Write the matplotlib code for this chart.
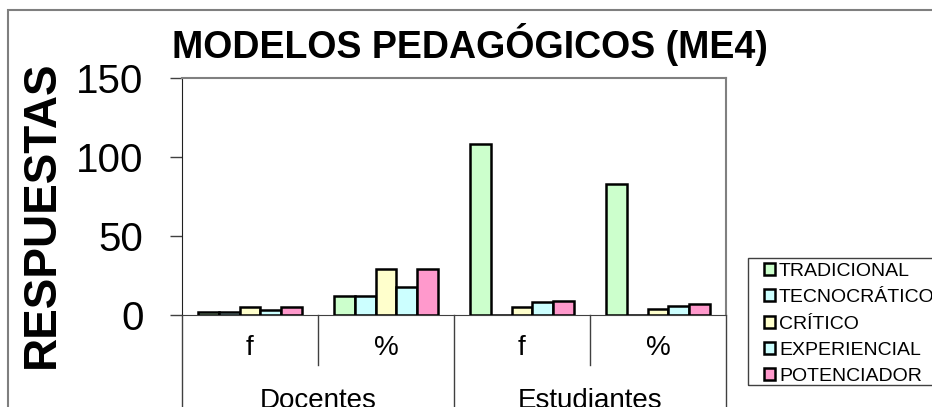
import matplotlib
matplotlib.use("Agg")
import matplotlib.pyplot as plt
from matplotlib.patches import Rectangle
import numpy as np

plt.rcParams['font.family'] = ['Liberation Sans', 'DejaVu Sans']

categories = ['f', '%', 'f', '%']
groups = ['Docentes', 'Estudiantes']
series = ['TRADICIONAL', 'TECNOCRÁTICO', 'CRÍTICO', 'EXPERIENCIAL', 'POTENCIADOR']
values = {
    'TRADICIONAL':  [2, 12, 108, 83],
    'TECNOCRÁTICO': [2, 12, 0, 0],
    'CRÍTICO':      [5, 29, 5, 4],
    'EXPERIENCIAL': [3, 18, 8, 6],
    'POTENCIADOR':  [5, 29, 9, 7],
}
colors = ['#CCFFCC', '#CCFFFF', '#FFFFCC', '#CCFFFF', '#FF99CC']
yticks = [0, 50, 100, 150]

W, H = 932, 407
fig = plt.figure(figsize=(W / 100, H / 100), dpi=100)

# outer chart border
fig.patches.append(Rectangle((8 / W, -0.1), 1.2, 1 - 10 / H + 0.1,
                             transform=fig.transFigure, fill=False,
                             edgecolor='#7f7f7f', linewidth=1.5))
# legend frame (right side runs off the picture)
fig.patches.append(Rectangle((748 / W, 1 - 385 / H), 1.0, (385 - 258) / H,
                             transform=fig.transFigure, fill=False,
                             edgecolor='#404040', linewidth=1))

left, right, top, bottom = 182, 726, 78, 315
ax = fig.add_axes([left / W, 1 - bottom / H, (right - left) / W, (bottom - top) / H])

x = np.arange(len(categories))
bw = 0.1544
for i, s in enumerate(series):
    ax.bar(x + (i - 2) * bw, values[s], width=bw, color=colors[i], edgecolor='black',
           linewidth=1.8, label=s, zorder=3)

ax.set_xlim(-0.5, len(categories) - 0.5)
ax.set_ylim(0, 150)
ax.set_yticks(yticks)
ax.tick_params(axis='y', length=8.6, width=1, pad=19, labelsize=29, color='#404040')
ax.set_xticks([])
for sp in ['top', 'right']:
    ax.spines[sp].set_color('#808080')
    ax.spines[sp].set_linewidth(1.5)
ax.spines['left'].set_color('#202020')
ax.spines['bottom'].set_color('#404040')

# multi-level category axis
tr = ax.get_xaxis_transform()
ah = bottom - top
for b in np.arange(-0.5, len(categories), 1):
    idx = int(b + 0.5)
    depth = -0.6 if idx % 2 == 0 else -50 / ah
    ax.plot([b, b], [0, depth], transform=tr, color='#404040', lw=1, clip_on=False)
for xi, c in zip(x, categories):
    ax.text(xi, -33 / ah, c, transform=tr, ha='center', va='center', fontsize=20)
for gi, g in enumerate(groups):
    ax.text(2 * gi + 0.5, -86 / ah, g, transform=tr, ha='center', va='center', fontsize=20)

fig.text(470 / W, 1 - 45 / H, 'MODELOS PEDAGÓGICOS (ME4)', ha='center', va='center',
         fontsize=27, fontweight='bold')
fig.text(42 / W, 1 - 214 / H, 'RESPUESTAS', ha='center', va='center', rotation=90,
         fontsize=33, fontweight='bold')

leg = fig.legend(loc='upper left', bbox_to_anchor=(764 / W, 1 - 263 / H), fontsize=14,
                 frameon=False, handlelength=0.57, handleheight=0.57, handletextpad=0.2,
                 labelspacing=0.48, borderpad=0, borderaxespad=0)
for h in leg.legend_handles:
    h.set_linewidth(1.8)

fig.savefig('out.png', dpi=100)
